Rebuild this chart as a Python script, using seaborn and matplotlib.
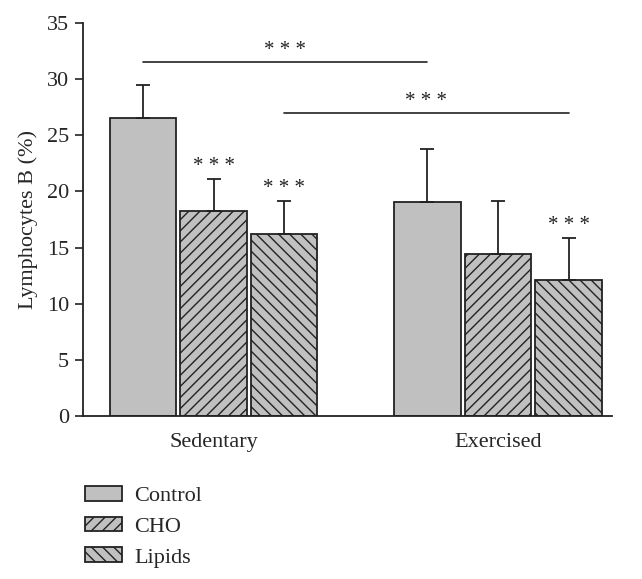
import matplotlib

matplotlib.use("Agg")
import matplotlib.pyplot as plt
import pandas as pd
import seaborn as sns
from matplotlib.patches import Patch

groups = ["Sedentary", "Exercised"]
treatments = ["Control", "CHO", "Lipids"]
means = {
    "Sedentary": [26.5, 18.25, 16.2],
    "Exercised": [19.05, 14.4, 12.15],
}
errors = {
    "Sedentary": [3.0, 2.85, 2.95],
    "Exercised": [4.75, 4.7, 3.7],
}
# stars right above single bars: (group, treatment)
marked_bars = [("Sedentary", "CHO"), ("Sedentary", "Lipids"), ("Exercised", "Lipids")]
# bracket comparisons: (group a, treatment a, group b, treatment b, height)
brackets = [
    ("Sedentary", "Control", "Exercised", "Control", 31.5),
    ("Sedentary", "Lipids", "Exercised", "Lipids", 27.0),
]
hatches = {"Control": "", "CHO": "///", "Lipids": "\\\\\\"}

BAR_COLOR = "#c0c0c0"
EDGE = "#222222"
FS = 16

df = pd.DataFrame(
    [
        {"group": g, "treatment": t, "value": means[g][i], "err": errors[g][i]}
        for g in groups
        for i, t in enumerate(treatments)
    ]
)

sns.set_theme(style="white")
plt.rcParams["font.family"] = ["Liberation Serif", "DejaVu Serif"]
plt.rcParams["hatch.linewidth"] = 1.0
plt.rcParams["hatch.color"] = EDGE

fig = plt.figure(figsize=(6.42, 5.79), dpi=100)
ax = fig.add_axes([0.129, 0.2815, 0.824, 0.679])

sns.barplot(
    data=df,
    x="group",
    y="value",
    hue="treatment",
    order=groups,
    hue_order=treatments,
    palette=[BAR_COLOR] * 3,
    width=0.745,
    gap=0.06,
    errorbar=None,
    edgecolor=EDGE,
    linewidth=1.3,
    legend=False,
    ax=ax,
)

# map bars to (group, treatment) -> center x
centers = {}
bars = [p for p in ax.patches if p.get_height() > 0]
bars.sort(key=lambda p: p.get_x())
order_pairs = [(g, t) for g in groups for t in treatments]
for p, (g, t) in zip(bars, order_pairs):
    p.set_hatch(hatches[t])
    centers[(g, t)] = p.get_x() + p.get_width() / 2

for (g, t), cx in centers.items():
    i = treatments.index(t)
    ax.errorbar(
        cx,
        means[g][i],
        yerr=[[0], [errors[g][i]]],
        fmt="none",
        ecolor=EDGE,
        elinewidth=1.3,
        capsize=5,
        capthick=1.3,
        zorder=1,
    )

for g, t in marked_bars:
    i = treatments.index(t)
    top = means[g][i] + errors[g][i]
    ax.text(centers[(g, t)], top + 0.3, "* * *", ha="center", va="bottom", fontsize=15, color=EDGE)

for g1, t1, g2, t2, h in brackets:
    x1, x2 = centers[(g1, t1)], centers[(g2, t2)]
    ax.plot([x1, x2], [h, h], color=EDGE, linewidth=1.2)
    ax.text((x1 + x2) / 2, h + 0.15, "* * *", ha="center", va="bottom", fontsize=15, color=EDGE)

ax.set_ylim(0, 35)
ax.set_yticks(range(0, 36, 5))
ax.set_xlim(-0.46, 1.40)
ax.set_xlabel("")
ax.set_ylabel("Lymphocytes B (%)", fontsize=FS, labelpad=6)
ax.tick_params(axis="y", labelsize=FS, left=True, length=6, width=1.2, color=EDGE, pad=4)
ax.tick_params(axis="x", labelsize=FS, bottom=False, pad=6)
sns.despine(ax=ax)
for side in ["left", "bottom"]:
    ax.spines[side].set_color(EDGE)
    ax.spines[side].set_linewidth(1.3)

handles = [
    Patch(facecolor=BAR_COLOR, edgecolor=EDGE, linewidth=1.3, hatch=hatches[t], label=t)
    for t in treatments
]
fig.legend(
    handles=handles,
    loc="upper left",
    bbox_to_anchor=(0.118, 0.176),
    frameon=False,
    fontsize=FS,
    handlelength=1.67,
    handleheight=0.63,
    handletextpad=0.55,
    labelspacing=0.48,
    borderaxespad=0,
)

fig.savefig("out.png", dpi=100)
